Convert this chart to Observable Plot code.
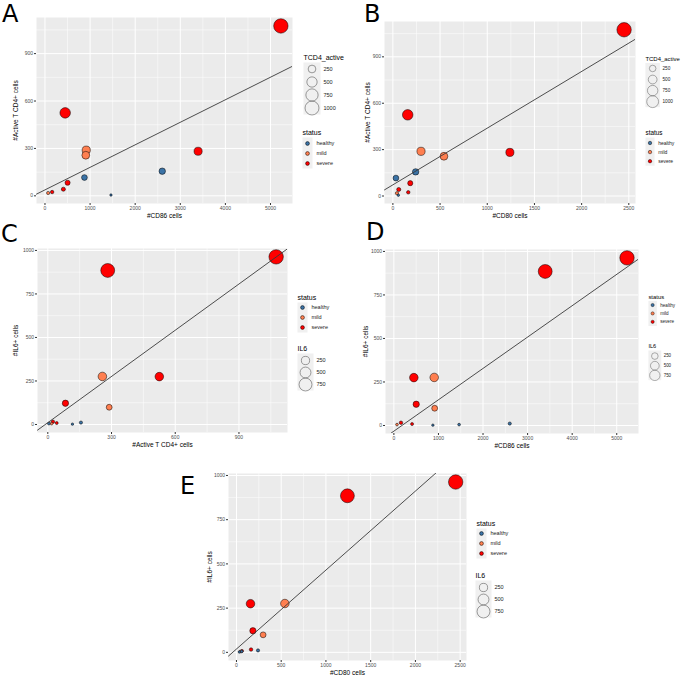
<!DOCTYPE html>
<html><head><meta charset="utf-8">
<script src="https://cdn.jsdelivr.net/npm/d3@7"></script>
<script src="https://cdn.jsdelivr.net/npm/@observablehq/plot@0.6"></script>
<style>
body{margin:0;background:#fff;}
#fig{position:relative;width:685px;height:678px;overflow:hidden;font-family:"Liberation Sans",Arial,sans-serif;}
.box{position:absolute;}
.box svg{overflow:visible;display:block;}
.letter{position:absolute;font-family:"DejaVu Sans",sans-serif;font-size:24px;line-height:normal;color:#000;}
</style></head><body><div id="fig"></div>
<script>
// ---- data ----
const patients   = ["P1","P2","P3","P4","P5","P6","P7","P8","P9","P10","P11","P12"];
const status     = ["severe","severe","mild","mild","severe","healthy","healthy","severe","severe","severe","mild","healthy"];
const cd86       = [5230, 448, 915, 905, 3395, 2600, 875, 501, 408, 159, 70, 1463];
const cd80       = [2450, 157, 298, 541, 1240, 241, 32, 184, 62, 163, 43, 58];
const tcd4Active = [1075, 525, 289, 257, 282, 156, 116, 83, 42, 24, 18, 5];
const il6        = [963, 275, 99, 276, 885, 11, 2, 122, 8, 16, 5, 5];

const statusLevels = ["healthy","mild","severe"];
const statusColors = ["#3B73A6","#FF7F50","#FF0000"];
const tcd4Breaks = [250, 500, 750, 1000];
const il6Breaks  = [250, 500, 750];
const ticksCD86 = [0,1000,2000,3000,4000,5000];
const ticksCD80 = [0,500,1000,1500,2000,2500];
const ticksTCD4A = [0,300,600,900];
const ticksIL6  = [0,250,500,750,1000];

const rows = patients.map((p,i)=>({id:p, status:status[i], CD86:cd86[i], CD80:cd80[i], TCD4:tcd4Active[i], IL6:il6[i]}));

const fig = document.getElementById("fig");
const FONT = '"Liberation Sans", Arial, sans-serif';
const fmt = d => String(d);

function expand(vals){const [a,b]=d3.extent(vals);const r=b-a;return [a-0.05*r,b+0.05*r];}
function minors(t,dom){const s=t[1]-t[0];return d3.range(t[0]-s/2,t[t.length-1]+s,s).filter(v=>v>=dom[0]&&v<=dom[1]);}
function linreg(xs,ys){const mx=d3.mean(xs),my=d3.mean(ys);let sxy=0,sxx=0;xs.forEach((x,i)=>{sxy+=(x-mx)*(ys[i]-my);sxx+=(x-mx)**2;});const b=sxy/sxx;return {a:my-b*mx,b};}
function rScale(key){const e=d3.extent(rows,d=>d[key]);return {type:"pow",exponent:0.5,domain:e,range:[1.2,7.2]};}
function place(node,left,top){const d=document.createElement("div");d.className="box";d.style.left=left+"px";d.style.top=top+"px";d.appendChild(node);fig.appendChild(d);}

function panel(c){
  const [fl,ft,fr,fb]=c.frame;
  const mL=36,mT=6,mR=6,mB=18;
  const xdom=expand(rows.map(d=>d[c.x])), ydom=expand(rows.map(d=>d[c.y]));
  const reg=linreg(rows.map(d=>d[c.x]),rows.map(d=>d[c.y]));
  const line=xdom.map(x=>({x,y:reg.a+reg.b*x}));
  const p=Plot.plot({
    width:(fr-fl)+mL+mR, height:(fb-ft)+mT+mB,
    marginLeft:mL, marginTop:mT, marginRight:mR, marginBottom:mB,
    x:{domain:xdom}, y:{domain:ydom},
    r:rScale(c.size),
    color:{domain:statusLevels, range:statusColors},
    style:{fontFamily:FONT, fontSize:"5px", color:"#4D4D4D", background:"transparent", overflow:"visible"},
    marks:[
      Plot.frame({fill:"#EBEBEB", stroke:null}),
      Plot.gridX(minors(c.xTicks,xdom),{stroke:"#fff",strokeOpacity:1,strokeWidth:0.5}),
      Plot.gridY(minors(c.yTicks,ydom),{stroke:"#fff",strokeOpacity:1,strokeWidth:0.5}),
      Plot.gridX(c.xTicks,{stroke:"#fff",strokeOpacity:1,strokeWidth:1}),
      Plot.gridY(c.yTicks,{stroke:"#fff",strokeOpacity:1,strokeWidth:1}),
      Plot.axisX(c.xTicks,{tickSize:2,tickPadding:1,fontSize:5,label:null,stroke:"#333",tickFormat:fmt}),
      Plot.axisY(c.yTicks,{tickSize:2,tickPadding:1.5,fontSize:5,label:null,stroke:"#333",tickFormat:fmt}),
      Plot.dot(rows,{x:c.x,y:c.y,r:c.size,fill:"status",stroke:"#000",strokeWidth:0.5}),
      Plot.line(line,{x:"x",y:"y",stroke:"#3a3a3a",strokeWidth:0.9,clip:true}),
      Plot.text([c.xLabel],{frameAnchor:"bottom",dy:12,lineAnchor:"middle",textAnchor:"middle",fontSize:6.5,fill:"#000"}),
      Plot.text([c.yLabel],{frameAnchor:"left",dx:c.yTitleDx,rotate:-90,lineAnchor:"middle",textAnchor:"middle",fontSize:6.5,fill:"#000"})
    ]
  });
  place(p,fl-mL,ft-mT);
  const L=document.createElement("div");L.className="letter";L.textContent=c.letter;
  L.style.left=c.letterPos[0]+"px";L.style.top=c.letterPos[1]+"px";fig.appendChild(L);
  c.legends.forEach(l=> l.kind==="size" ? sizeLegend(l,c.size) : statusLegend(l));
}

function sizeLegend(l,key){
  const [fl,ft,fr,fb]=l.frame;const mT=10,mR=30;
  const p=Plot.plot({
    width:(fr-fl)+mR, height:(fb-ft)+mT, marginLeft:0, marginTop:mT, marginRight:mR, marginBottom:0,
    y:{type:"band",domain:l.breaks,padding:0,axis:null},
    r:rScale(key),
    style:{fontFamily:FONT,fontSize:"5.5px",color:"#000",background:"transparent",overflow:"visible"},
    marks:[
      Plot.frame({fill:"#F0F0F0",stroke:null}),
      Plot.dot(l.breaks,{y:d=>d,r:d=>d,fill:"none",stroke:"#5a5a5a",strokeWidth:0.6}),
      Plot.text(l.breaks,{y:d=>d,text:fmt,frameAnchor:"right",dx:3,textAnchor:"start",lineAnchor:"middle",fontSize:5.5,fill:"#1a1a1a"}),
      Plot.text([l.title],{frameAnchor:"top-left",dy:-5,textAnchor:"start",lineAnchor:"middle",fontSize:7,fill:"#000"})
    ]
  });
  place(p,fl,ft-mT);
}
function statusLegend(l){
  const [fl,ft,fr,fb]=l.frame;const mT=10,mR=34;
  const p=Plot.plot({
    width:(fr-fl)+mR, height:(fb-ft)+mT, marginLeft:0, marginTop:mT, marginRight:mR, marginBottom:0,
    y:{type:"band",domain:statusLevels,padding:0,axis:null},
    color:{domain:statusLevels,range:statusColors},
    style:{fontFamily:FONT,fontSize:"5.5px",color:"#000",background:"transparent",overflow:"visible"},
    marks:[
      Plot.frame({fill:"#F0F0F0",stroke:null}),
      Plot.dot(statusLevels,{y:d=>d,fill:d=>d,r:1.9,stroke:"#000",strokeWidth:0.5}),
      Plot.text(statusLevels,{y:d=>d,text:d=>d,frameAnchor:"right",dx:4,textAnchor:"start",lineAnchor:"middle",fontSize:5.5,fill:"#1a1a1a"}),
      Plot.text(["status"],{frameAnchor:"top-left",dy:-5,textAnchor:"start",lineAnchor:"middle",fontSize:7,fill:"#000"})
    ]
  });
  place(p,fl,ft-mT);
}

const panels=[
  {letter:"A",x:"CD86",y:"TCD4",size:"TCD4",xLabel:"#CD86 cells",yLabel:"#Active T CD4+ cells",
   frame:[36,17,292,203],xTicks:ticksCD86,yTicks:ticksTCD4A,yTitleDx:-21,letterPos:[2,0],
   legends:[{kind:"size",title:"TCD4_active",breaks:tcd4Breaks,frame:[303,62,320,114]},{kind:"status",frame:[302,137,312,168]}]},
  {letter:"B",x:"CD80",y:"TCD4",size:"TCD4",xLabel:"#CD80 cells",yLabel:"#Active T CD4+ cells",
   frame:[384,21,635,203],xTicks:ticksCD80,yTicks:ticksTCD4A,yTitleDx:-17,letterPos:[364,0],
   legends:[{kind:"size",title:"TCD4_active",breaks:tcd4Breaks,frame:[645,64,662,116]},{kind:"status",frame:[645,138,655,169]}]},
  {letter:"C",x:"TCD4",y:"IL6",size:"IL6",xLabel:"#Active T CD4+ cells",yLabel:"#IL6+ cells",
   frame:[37,248,287,432],xTicks:ticksTCD4A,yTicks:ticksIL6,yTitleDx:-22,letterPos:[1,220],
   legends:[{kind:"status",frame:[297,302,307,332]},{kind:"size",title:"IL6",breaks:il6Breaks,frame:[297,353,313,390]}]},
  {letter:"D",x:"CD86",y:"IL6",size:"IL6",xLabel:"#CD86 cells",yLabel:"#IL6+ cells",
   frame:[385,249,638,433],xTicks:ticksCD86,yTicks:ticksIL6,yTitleDx:-20,letterPos:[366,218],
   legends:[{kind:"status",frame:[648,302,658,332]},{kind:"size",title:"IL6",breaks:il6Breaks,frame:[648,352,664,389]}]},
  {letter:"E",x:"CD80",y:"IL6",size:"IL6",xLabel:"#CD80 cells",yLabel:"#IL6+ cells",
   frame:[228,473,466,660],xTicks:ticksCD80,yTicks:ticksIL6,yTitleDx:-19,letterPos:[180,472],
   legends:[{kind:"status",frame:[476,528,486,558]},{kind:"size",title:"IL6",breaks:il6Breaks,frame:[475,580,491,617]}]}
];
panels.forEach(panel);
</script></body></html>
